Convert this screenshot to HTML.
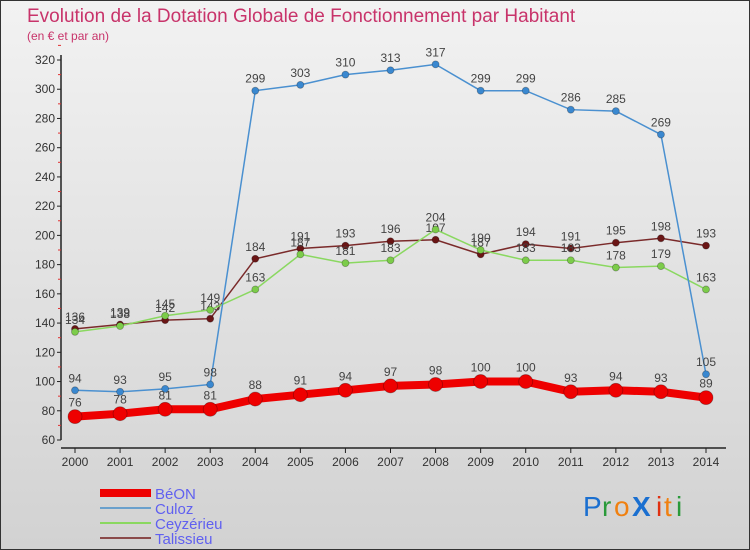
<!DOCTYPE html>
<html><head><meta charset="utf-8"><style>
body{margin:0;width:750px;height:550px;overflow:hidden;font-family:"Liberation Sans",sans-serif}
svg{display:block}
</style></head><body>
<svg id="chart" width="750" height="550" xmlns="http://www.w3.org/2000/svg">
<defs><linearGradient id="bg" x1="0" y1="0" x2="0" y2="1"><stop offset="0" stop-color="#f2f2f2"/><stop offset="1" stop-color="#d2d2d2"/></linearGradient></defs>
<rect x="0.5" y="0.5" width="749" height="549" fill="url(#bg)" stroke="#333"/>
<text x="27" y="22" font-size="19" fill="#c8336a">Evolution de la Dotation Globale de Fonctionnement par Habitant</text>
<text x="27" y="40" font-size="12" fill="#c8336a">(en € et par an)</text>
<g id="axes"></g><g id="series"></g><g id="legend"></g>
<g font-size="28" font-family="'Liberation Sans',sans-serif">
<text x="583" y="516" fill="#1a6fd0">P</text><text x="602" y="516" fill="#2a9a3a">r</text><text x="614" y="516" fill="#f08010">o</text><text x="632" y="516" fill="#1a6fd0" font-weight="bold">X</text><text x="656" y="516" fill="#e03010">i</text><text x="664" y="516" fill="#f08010">t</text><text x="676" y="516" fill="#2a9a3a">i</text>
</g>
</svg>
<script>
const years=[2000,2001,2002,2003,2004,2005,2006,2007,2008,2009,2010,2011,2012,2013,2014];
const yTicks=[60,80,100,120,140,160,180,200,220,240,260,280,300,320];
const beon=[76,78,81,81,88,91,94,97,98,100,100,93,94,93,89];
const culoz=[94,93,95,98,299,303,310,313,317,299,299,286,285,269,105];
const ceyzerieu=[134,138,145,149,163,187,181,183,204,190,183,183,178,179,163];
const talissieu=[136,139,142,143,184,191,193,196,197,187,194,191,195,198,193];
const NS="http://www.w3.org/2000/svg";
function xs(i){return 75+i*(631/14);}
function ys(v){return 440-(v-60)*380/260;}
function mk(tag,attrs,parent,text){const e=document.createElementNS(NS,tag);for(const k in attrs)e.setAttribute(k,attrs[k]);if(text!==undefined)e.textContent=text;parent.appendChild(e);return e;}
const ax=document.getElementById('axes');
let yl=mk('line',{x1:61,y1:55,x2:61,y2:440,stroke:'#222','stroke-width':1.5},ax);


let xl=mk('line',{x1:61,y1:448,x2:726,y2:448,stroke:'#222','stroke-width':1.5},ax);


yTicks.forEach(v=>{
  mk('line',{x1:57,y1:ys(v),x2:61,y2:ys(v),stroke:'#222'},ax);
  mk('line',{x1:58,y1:ys(v+10),x2:61,y2:ys(v+10),stroke:'#e03030'},ax);
  const t=mk('text',{x:55,y:ys(v)+4,'text-anchor':'end','font-size':12,fill:'#333'},ax,v);
  
  
});
years.forEach((y,i)=>{
  mk('line',{x1:xs(i),y1:448,x2:xs(i),y2:453,stroke:'#222'},ax);
  const t=mk('text',{x:xs(i),y:466,'text-anchor':'middle','font-size':12,fill:'#333'},ax,y);
  
  
});
const sg=document.getElementById('series');
const defs=[
 {d:talissieu,c:'#7a2a2a',f:'#6a1515',w:1.5,r:3.5,n:'talissieu'},
 {d:ceyzerieu,c:'#8ad860',f:'#7ccc4a',w:1.5,r:3.5,n:'ceyzerieu'},
 {d:culoz,c:'#4a90d0',f:'#3a88d0',w:1.5,r:3.5,n:'culoz'},
 {d:beon,c:'#ee0000',f:'#ee0000',w:8,r:7,n:'beon'}];
defs.forEach(s=>{
  const g=mk('g',{},sg);
  
  
  const p=mk('polyline',{points:s.d.map((v,i)=>xs(i)+','+ys(v)).join(' '),fill:'none',stroke:s.c,'stroke-width':s.w},g);
  
  
  s.d.forEach((v,i)=>{
    const c=mk('circle',{cx:xs(i),cy:ys(v),r:s.r,fill:s.f,stroke:'rgba(0,0,0,0.3)','stroke-width':0.8},g);
    
    
    const t=mk('text',{x:xs(i),y:ys(v)-(s.n==='beon'?10:8),'text-anchor':'middle','font-size':12,fill:'#444'},g,v);
    
    
  });
});
const lg=document.getElementById('legend');
const items=[['BéON','#ee0000',8],['Culoz','#6aa0cc',2],['Ceyzérieu','#8ad860',2],['Talissieu','#8a4a4a',2]];
items.forEach((it,k)=>{
  const y=493+k*15;
  const g=mk('g',{},lg);
  
  
  mk('line',{x1:100,y1:y,x2:151,y2:y,stroke:it[1],'stroke-width':it[2]},g);
  mk('text',{x:155,y:y+6,'font-size':15,fill:'#6060f0'},g,it[0]);
});
</script>
</body></html>
